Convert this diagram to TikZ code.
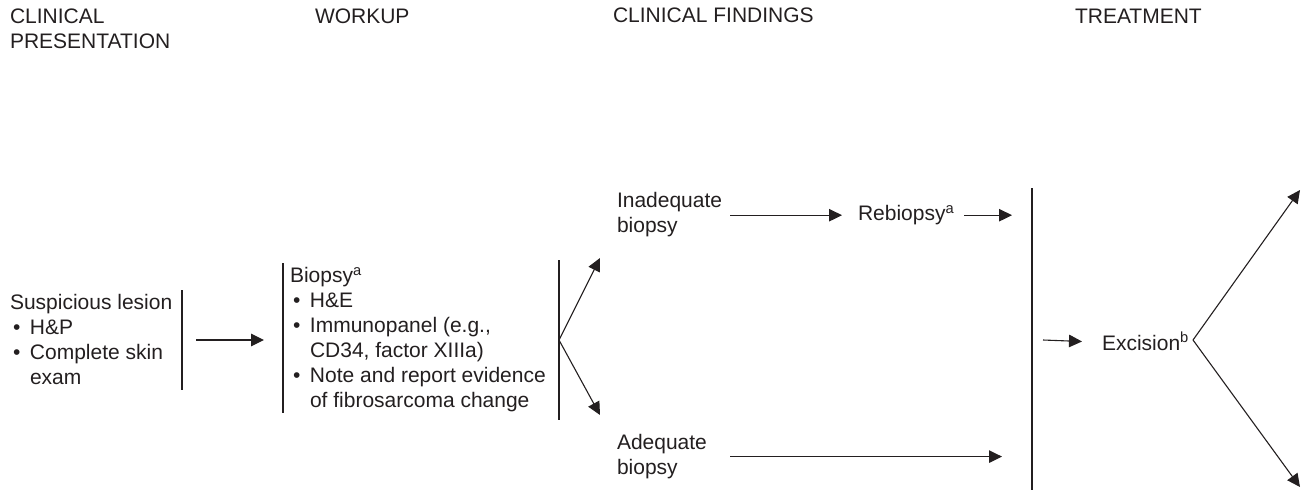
\documentclass[tikz,border=0pt]{standalone}
\usepackage{fontspec}
\setmainfont{Liberation Sans}
\usetikzlibrary{calc,arrows.meta,positioning}
\definecolor{ink}{RGB}{35,31,32}
\newcommand{\bul}{\hspace*{3pt}\makebox[17pt][l]{\textbullet}}
\newcommand{\ind}{\hspace*{20pt}}

\begin{document}
\begin{tikzpicture}[x=1pt, y=-1pt, line width=1.1pt, draw=ink,
    every node/.style={inner sep=0pt, outer sep=0pt, align=left, anchor=north west,
      font=\fontsize{21}{25}\selectfont, text=ink},
    tip/.style={-{Triangle[length=13pt,width=12.5pt]}}]
  \useasboundingbox (0,0) rectangle (1304,491);

  % column headings
  \node (hpres) at (10,9.3) {CLINICAL\\PRESENTATION};
  \node (hwork) at (315,9.3) {WORKUP};
  \node (hfind) at (613,8.3) {CLINICAL FINDINGS};
  \node (htreat) at (1075,9.3) {TREATMENT};

  % text blocks
  \node (susp) at (10,294.3) {Suspicious lesion\\\bul H\&P\\\bul Complete skin\\\ind exam};
  \node (biop) at (290,267.3) {Biopsy\textsuperscript{a}\\\bul H\&E\\\bul Immunopanel (e.g.,\\\ind CD34, factor XIIIa)\\\bul Note and report evidence\\\ind of fibrosarcoma change};
  \node (inad) at (617,192.3) {Inadequate\\biopsy};
  \node (rebio) at (858,205.3) {Rebiopsy\textsuperscript{a}};
  \node (adeq) at (617,434.3) {Adequate\\biopsy};
  \node (exc) at (1102,332.3) {Excision\textsuperscript{b}};

  % bars and branch points
  \coordinate (bar1t) at (182,290);  \coordinate (bar1b) at (182,390);
  \coordinate (bar2t) at (283,263);  \coordinate (bar2b) at (283,413);
  \coordinate (bar3t) at (559,260);  \coordinate (bar3b) at (559,420);
  \coordinate (bar4t) at (1032,188); \coordinate (bar4b) at (1032,490);
  \coordinate (fork1) at (559,340);
  \coordinate (fork2) at (1193,340);
  \coordinate (up1) at (600,258);    \coordinate (dn1) at (600,415);
  \coordinate (up2) at (1300,190);   \coordinate (dn2) at (1300,487);

  \path [-]
    (bar1t) edge (bar1b)
    (bar2t) edge (bar2b)
    (bar3t) edge (bar3b)
    (bar4t) edge (bar4b)
  ;

  \path [tip]
    ([xshift=14pt]bar1t |- fork1) edge ([xshift=-19pt]bar2t |- fork1)
    (fork1) edge (up1)
    (fork1) edge (dn1)
    ([xshift=8pt]inad.east |- rebio.west) edge ([xshift=-16pt]rebio.west)
    ([xshift=10pt]rebio.east) edge ([xshift=-20pt]bar4t |- rebio.west)
    ([xshift=8pt]inad.east |- adeq.east) edge ([xshift=-30pt]bar4t |- adeq.east)
    ([xshift=11pt]bar4t |- fork2) edge ([xshift=-20pt]exc.west)
    (fork2) edge (up2)
    (fork2) edge (dn2)
  ;
\end{tikzpicture}
\end{document}
